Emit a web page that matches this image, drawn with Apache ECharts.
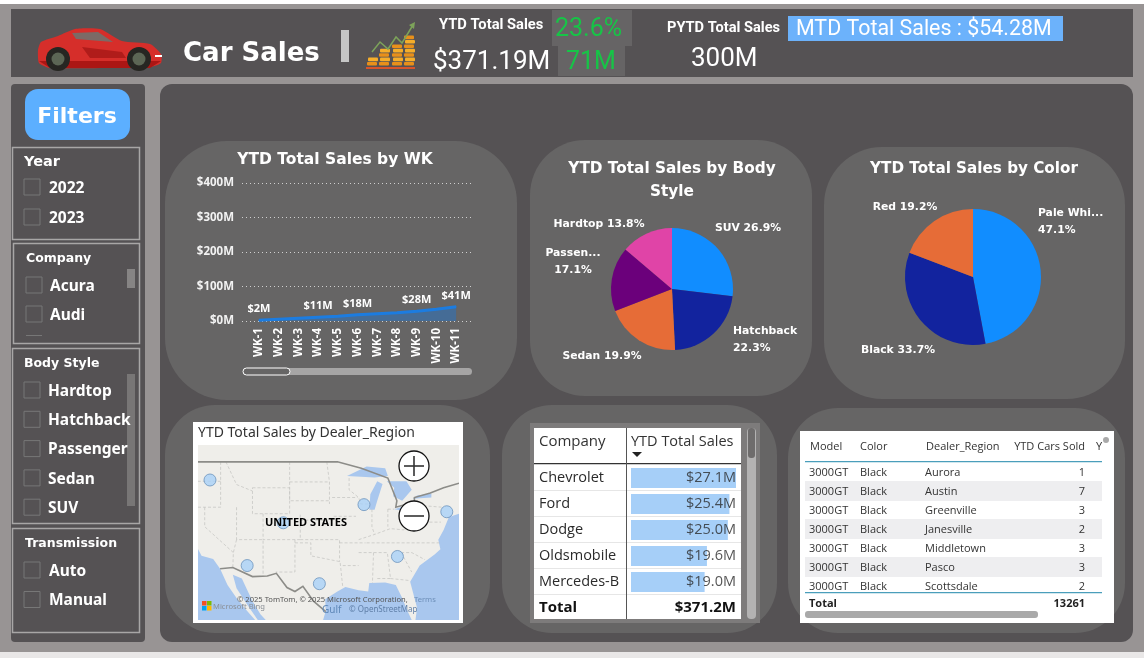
<!DOCTYPE html>
<html>
<head>
<meta charset="utf-8">
<script src="https://cdn.jsdelivr.net/npm/echarts@6/dist/echarts.min.js"></script>
<style>
  html, body { margin: 0; padding: 0; background: #989494; }
  #main { width: 1144px; height: 658px; }
</style>
</head>
<body>
<div id="main"></div>
<script>
const weeks = ["WK-1", "WK-2", "WK-3", "WK-4", "WK-5", "WK-6", "WK-7", "WK-8", "WK-9", "WK-10", "WK-11"];
const weekSales = [2, 5, 8, 11, 14, 18, 21, 24, 28, 34, 41];
const labelledWeeks = ["WK-1", "WK-4", "WK-6", "WK-9", "WK-11"];

const bodyStyles = ["SUV", "Hatchback", "Sedan", "Passenger", "Hardtop"];
const bodySales = [26.9, 22.3, 19.9, 17.1, 13.8];
const bodyColors = ["#118dff", "#12239e", "#e66c37", "#6b007b", "#e044a7"];

const carColors = ["Pale White", "Black", "Red"];
const colorSales = [47.0, 33.7, 19.2];
const colorColors = ["#118dff", "#12239e", "#e66c37"];

const companies = ["Chevrolet", "Ford", "Dodge", "Oldsmobile", "Mercedes-B"];
const companySales = [27.1, 25.4, 25.0, 19.6, 19.0];

const regions = ["Pasco", "Aurora", "Scottsdale", "Austin", "Janesville", "Greenville", "Middletown"];
const regionLon = [-119, -105.2, -112, -98.4, -90, -83.7, -74.4];
const regionLat = [46.2, 39.6, 33, 30.2, 42.4, 34.4, 41.3];

const tableModels = ["3000GT", "3000GT", "3000GT", "3000GT", "3000GT", "3000GT", "3000GT"];
const tableColors = ["Black", "Black", "Black", "Black", "Black", "Black", "Black"];
const tableRegions = ["Aurora", "Austin", "Greenville", "Janesville", "Middletown", "Pasco", "Scottsdale"];
const tableCars = [1, 7, 3, 2, 3, 3, 2];

const yearOptions = ["2022", "2023"];
const companyOptions = ["Acura", "Audi"];
const bodyOptions = ["Hardtop", "Hatchback", "Passenger", "Sedan", "SUV"];
const transmissionOptions = ["Auto", "Manual"];

// rough base map, lon/lat
const waterAreas = [
  [[-121.3, 24.6], [-121.3, 35.6], [-120.6, 34.5], [-118.4, 34], [-117.1, 32.5], [-115.7, 30], [-114, 28], [-112, 26], [-110.5, 24.6]],
  [[-114.7, 31.6], [-113, 31], [-111, 27.5], [-109.5, 25.5], [-108.5, 24.6], [-110, 24.6], [-112, 27], [-114, 29.5]],
  [[-97.7, 24.6], [-97.2, 26], [-97.3, 27.8], [-95, 29], [-93.5, 29.7], [-91, 29.2], [-89.2, 29], [-89, 30.3], [-86, 30.4], [-84, 30], [-82.8, 28], [-81.8, 26], [-81, 24.6]],
  [[-80.3, 24.6], [-80, 26.5], [-81.3, 30.5], [-79.5, 33], [-76.7, 34.7], [-75.6, 35.5], [-76, 37], [-75, 38.5], [-74, 40.5], [-72.1, 41], [-72.1, 24.6]],
  [[-93.2, 46.8], [-89.5, 48.3], [-86, 48], [-85.5, 46.8], [-88, 46.6]],
  [[-89, 41.6], [-88.8, 44], [-87.5, 46], [-86.5, 45.6], [-87.5, 43], [-88, 41.6]],
  [[-85.7, 46], [-82, 46], [-81, 44.7], [-82.8, 43], [-84.5, 43.7], [-84.3, 45]],
  [[-84.3, 41.7], [-80, 42.8], [-80.2, 42.5], [-82.5, 41.4]],
  [[-80.8, 43.3], [-77.3, 43.5], [-77.3, 44.1], [-80, 43.8]]
];
const borderLines = [
  [[-121.3, 49], [-95, 49], [-90.5, 48], [-85.5, 46.5], [-83.8, 43], [-84, 42], [-80.5, 42.8], [-80.5, 43.5], [-77.5, 44.2], [-75, 45], [-72.1, 45.7]],
  [[-117.1, 32.5], [-114.7, 32.7], [-111, 31.3], [-108.2, 31.4], [-106.5, 31.8], [-104.5, 29.6], [-103, 29], [-101.5, 29.8], [-99.5, 27.5], [-97.2, 25.9]]
];
const stateLines = [
  [[-111, 45], [-104, 45], [-104, 41], [-111, 41], [-111, 45]],
  [[-109, 41], [-109, 37], [-102, 37], [-102, 41]],
  [[-114, 42], [-114, 37], [-109, 37], [-109, 31.3]],
  [[-114, 37], [-114.6, 35], [-114.7, 32.7]],
  [[-103, 37], [-103, 32], [-106.6, 32]],
  [[-104, 49], [-104, 43], [-96.5, 43]],
  [[-104, 45.9], [-96.5, 45.9]],
  [[-97, 49], [-96.5, 45.9], [-96.5, 42.5]],
  [[-102, 40], [-95.3, 40]],
  [[-102, 37], [-94.6, 37], [-94.6, 33.6]],
  [[-103, 36.5], [-100, 36.5], [-100, 34.5], [-94.5, 33.6], [-94, 29.7]],
  [[-96, 43.5], [-91.2, 43.5]],
  [[-95.7, 40.6], [-91.5, 40.6]],
  [[-94.6, 36.5], [-89.7, 36.5]],
  [[-94, 33], [-91, 33]],
  [[-91, 35], [-85.6, 35], [-85, 31], [-87.5, 31]],
  [[-88.2, 35], [-88.4, 30.3]],
  [[-85, 31], [-81.5, 30.7]],
  [[-88.5, 41.7], [-88.5, 39], [-88, 37.8]],
  [[-85.5, 41.7], [-85.5, 39]],
  [[-89.5, 36.5], [-75.8, 36.5]],
  [[-91, 37], [-88, 37.8], [-85, 38.7], [-82.5, 38.5], [-80.6, 40.6]],
  [[-92.8, 46.5], [-92.8, 44.7], [-91, 43.5], [-90.6, 42.5], [-88.8, 42.5]],
  [[-85.5, 41.7], [-84.3, 41.7]],
  [[-80.5, 42], [-80.5, 39.7], [-75.5, 39.7]],
  [[-79.7, 42.3], [-75.3, 42]],
  [[-117, 49], [-117, 42], [-121.3, 42]],
  [[-121.3, 46], [-117, 46]],
  [[-120, 42], [-120, 39], [-114.6, 35]],
  [[-116, 49], [-114, 45.5], [-111, 44.5]],
  [[-83, 35], [-81, 35], [-78.5, 33.9]],
  [[-83, 35], [-81, 32]]
];

const TITLE_FONT = "DejaVu Sans";
const KPI_FONT = "Roboto";
const TABLE_FONT = "Open Sans";

function box(x, y, width, height, fill, r, extra) {
  return Object.assign({
    type: "rect",
    silent: true,
    shape: { x, y, width, height, r: r || 0 },
    style: { fill }
  }, extra);
}

function outline(x, y, width, height, stroke, lineWidth, extra) {
  return Object.assign({
    type: "rect",
    silent: true,
    shape: { x, y, width, height },
    style: { fill: "transparent", stroke, lineWidth: lineWidth || 1 }
  }, extra);
}

function txt(x, y, text, size, fill, opts) {
  opts = opts || {};
  return {
    type: "text",
    silent: true,
    x,
    y: y + size * 0.08,
    z: opts.z === undefined ? 5 : opts.z,
    style: {
      text,
      fill,
      fontSize: size,
      fontFamily: opts.font || TITLE_FONT,
      fontWeight: opts.weight || "normal",
      align: opts.align || "left",
      verticalAlign: "middle"
    }
  };
}

function filterList(items, boxX, textX, startY, stepY) {
  const out = [];
  items.forEach((item, i) => {
    const y = startY + i * stepY;
    out.push(outline(boxX, y - 8, 16, 16, "#777", 1, { z: 3 }));
    out.push(txt(textX, y, item, 15.5, "#fff", { font: "Noto Sans", weight: "bold" }));
  });
  return out;
}

function carIcon() {
  const poly = (points, fill, smooth) => ({
    type: "polygon", silent: true, z: 3,
    shape: { points, smooth: smooth || 0 },
    style: { fill }
  });
  const wheel = (cx) => [
    { type: "circle", silent: true, z: 4, shape: { cx, cy: 59, r: 12 }, style: { fill: "#262622" } },
    { type: "circle", silent: true, z: 4, shape: { cx, cy: 59, r: 6.5 }, style: { fill: "#5c6655" } }
  ];
  return [
    poly([[38, 50], [41, 42], [58, 36], [75, 29], [100, 29], [122, 41], [150, 44], [161, 54], [161, 63], [150, 67], [50, 68], [39, 63]], "#d62e2a", 0.2),
    poly([[39, 61], [161, 61], [150, 68], [50, 68]], "#ab1614"),
    poly([[72, 33], [98, 32], [113, 42], [76, 39]], "#7c6a66"),
    poly([[82, 47], [122, 52], [126, 58], [90, 58]], "#b01c1a")
  ].concat(wheel(58), wheel(139), [
    box(155, 55, 7, 2, "#fff", 0, { z: 4 })
  ]);
}

function coinIcon() {
  const out = [];
  const stacks = [[367, 2], [379, 4], [392, 5], [404, 7]];
  stacks.forEach(([x, count]) => {
    for (let i = 0; i < count; i++) {
      out.push(box(x + (i % 2), 62 - i * 4.4, 10, 3.6, i % 2 ? "#f6ae2a" : "#e8901a", 1, { z: 3 }));
    }
  });
  out.push(box(366, 67, 49, 2, "#d9552a", 0, { z: 3 }));
  out.push({
    type: "polyline", silent: true, z: 3,
    shape: { points: [[372, 52], [380, 42], [388, 49], [396, 37], [402, 43], [413, 25]] },
    style: { fill: "none", stroke: "#7da35a", lineWidth: 1.5 }
  });
  out.push({
    type: "polygon", silent: true, z: 3,
    shape: { points: [[415, 22], [409, 25], [414, 29]] },
    style: { fill: "#7da35a" }
  });
  return out;
}

function rightTable() {
  const out = [
    box(800, 431, 314, 192, "#fff", 0, { z: 1 }),
    box(805, 461, 297, 1.2, "#4a9ebb", 0, { z: 2 }),
    box(805, 592, 297, 1.2, "#4a9ebb", 0, { z: 2 }),
    box(805, 611, 233, 7, "#a9a9a9", 3, { z: 2 }),
    { type: "circle", silent: true, z: 3, shape: { cx: 1106, cy: 440, r: 3 }, style: { fill: "#a9a9a9" } }
  ];
  const size = 11;
  const cell = { font: TABLE_FONT };
  out.push(txt(810, 446, "Model", size, "#333", cell));
  out.push(txt(860, 446, "Color", size, "#333", cell));
  out.push(txt(926, 446, "Dealer_Region", size, "#333", cell));
  out.push(txt(1085, 446, "YTD Cars Sold", size, "#333", { font: TABLE_FONT, align: "right" }));
  out.push(txt(1096, 446, "Y", size, "#333", cell));
  tableRegions.forEach((region, i) => {
    const y = 472 + i * 19;
    if (i % 2 === 1) out.push(box(805, y - 10, 297, 20, "#eeeef0", 0, { z: 2 }));
    out.push(txt(809, y, tableModels[i], size, "#333", cell));
    out.push(txt(860, y, tableColors[i], size, "#333", cell));
    out.push(txt(925, y, region, size, "#333", cell));
    out.push(txt(1085, y, String(tableCars[i]), size, "#333", { font: TABLE_FONT, align: "right" }));
  });
  out.push(txt(809, 603, "Total", size, "#222", { font: TABLE_FONT, weight: "bold" }));
  out.push(txt(1085, 603, "13261", size, "#222", { font: TABLE_FONT, weight: "bold", align: "right" }));
  return out;
}

function companyTableFrame() {
  const out = [
    box(530, 423, 230, 200, "#7d7b7b", 0, { z: 1 }),
    box(534, 428, 207, 191, "#fff", 0, { z: 1 }),
    box(747, 428, 9, 191, "#b3b2b2", 4, { z: 2 }),
    box(748, 428, 7, 30, "#6e6c6c", 3, { z: 2 }),
    box(534, 463, 207, 1.2, "#333", 0, { z: 6 }),
    box(626, 428, 1, 191, "#555", 0, { z: 6 })
  ];
  [490, 516, 542, 568, 594].forEach((y) => {
    out.push(box(534, y, 207, 1, "#e6e6e6", 0, { z: 2 }));
  });
  out.push(txt(539, 441, "Company", 15, "#333", { font: TABLE_FONT }));
  out.push(txt(631, 441, "YTD Total Sales", 14.5, "#333", { font: TABLE_FONT }));
  out.push({
    type: "polygon", silent: true, z: 6,
    shape: { points: [[632, 452], [642, 452], [637, 457]] },
    style: { fill: "#222" }
  });
  out.push(txt(539, 607, "Total", 15, "#111", { font: TABLE_FONT, weight: "bold" }));
  out.push(txt(736, 607, "$371.2M", 15, "#111", { font: TABLE_FONT, weight: "bold", align: "right" }));
  return out;
}

function mapOverlay() {
  const zoomButton = (cy, plus) => {
    const parts = [
      { type: "circle", silent: true, z: 20, shape: { cx: 414, cy, r: 15 }, style: { fill: "#fff", stroke: "#111", lineWidth: 1.3 } },
      box(404, cy - 0.8, 20, 1.6, "#333", 0, { z: 21 })
    ];
    if (plus) parts.push(box(413.2, cy - 10, 1.6, 20, "#333", 0, { z: 21 }));
    return parts;
  };
  return [
    box(193, 422, 270, 201, "#fff", 0, { z: 0 }),
    txt(198, 432, "YTD Total Sales by Dealer_Region", 14, "#333", { font: "Noto Sans" }),
    txt(306, 522, "UNITED STATES", 11, "#000", { font: "Noto Sans", weight: "bold", align: "center", z: 20 }),
    txt(237, 599, "© 2025 TomTom, © 2025 Microsoft Corporation,", 7.6, "#555", { font: "Noto Sans", z: 20 }),
    txt(414, 599, "Terms", 7.6, "#6d8fb8", { font: "Noto Sans", z: 20 }),
    txt(322, 609, "Gulf", 10, "#5f88b8", { font: "Noto Sans", z: 20 }),
    txt(349, 609, "© OpenStreetMap", 8, "#5f7fa8", { font: "Noto Sans", z: 20 }),
    txt(213, 606, "Microsoft Bing", 7.6, "#8a8f96", { font: "Noto Sans", z: 20 }),
    box(202, 601, 4.5, 4.5, "#f25022", 0, { z: 20 }),
    box(207, 601, 4.5, 4.5, "#7fba00", 0, { z: 20 }),
    box(202, 606, 4.5, 4.5, "#00a4ef", 0, { z: 20 }),
    box(207, 606, 4.5, 4.5, "#ffb900", 0, { z: 20 })
  ].concat(zoomButton(466, true), zoomButton(516, false));
}

const PANEL = "#555254";
const CARD = "#666565";

const graphics = [
  box(0, 0, 1144, 4, "#fff", 0, { z: 0 }),
  box(0, 652, 1144, 6, "#e9e7e7", 0, { z: 0 }),
  // header
  box(11, 9, 1122, 68, PANEL, 0, { z: 0 }),
  box(341, 30, 8, 32, "#c6c6c6", 0, { z: 1 }),
  txt(183, 52, "Car Sales", 26, "#fff", { weight: "bold" }),
  txt(439, 24, "YTD Total Sales", 14.7, "#fff", { font: KPI_FONT, weight: "bold" }),
  txt(433, 60, "$371.19M", 26, "#fff", { font: KPI_FONT }),
  box(552, 10, 80, 36, "#666465", 0, { z: 1 }),
  box(558, 46, 67, 30, "#666465", 0, { z: 1 }),
  txt(555, 28, "23.6%", 25, "#17c447", { font: KPI_FONT }),
  txt(566, 61, "71M", 25, "#17c447", { font: KPI_FONT }),
  txt(667, 27, "PYTD Total Sales", 14.6, "#fff", { font: KPI_FONT, weight: "bold" }),
  txt(691, 57, "300M", 26, "#fff", { font: KPI_FONT }),
  box(788, 16, 275, 25, "#6cb2fb", 0, { z: 1 }),
  txt(796, 28, "MTD Total Sales : $54.28M", 21.4, "#fff", { font: KPI_FONT }),
  // filter panel
  box(11, 84, 134, 558, PANEL, 4, { z: 0 }),
  box(25, 89, 105, 51, "#5cafff", 13, { z: 1 }),
  txt(77, 116, "Filters", 22, "#fff", { weight: "bold", align: "center" }),
  outline(12.5, 147.5, 127, 92, "#a8a6a6", 1.5, { z: 1 }),
  outline(13.5, 243.5, 126, 100, "#a8a6a6", 1.5, { z: 1 }),
  outline(12.5, 348.5, 127, 175, "#a8a6a6", 1.5, { z: 1 }),
  outline(12.5, 528.5, 127, 104, "#a8a6a6", 1.5, { z: 1 }),
  txt(24, 161, "Year", 14.5, "#fff", { weight: "bold" }),
  txt(26, 258, "Company", 12.5, "#fff", { weight: "bold" }),
  txt(24, 363, "Body Style", 12.5, "#fff", { weight: "bold" }),
  txt(25, 543, "Transmission", 12.5, "#fff", { weight: "bold" }),
  box(127, 269, 8, 19, "#868484", 0, { z: 2 }),
  box(127, 374, 8, 132, "#787676", 0, { z: 2 }),
  box(26, 335, 16, 1, "#777", 0, { z: 3 }),
  // main panel and cards
  box(160, 84, 973, 558, PANEL, 12, { z: 0 }),
  box(165, 141, 352, 259, CARD, 62, { z: 0 }),
  box(530, 140, 282, 256, CARD, 55, { z: 0 }),
  box(824, 147, 301, 252, CARD, 58, { z: 0 }),
  box(165, 405, 325, 228, CARD, 50, { z: 0 }),
  box(502, 405, 275, 228, CARD, 50, { z: 0 }),
  box(788, 408, 337, 225, CARD, 50, { z: 0 }),
  // chart titles
  txt(335, 159, "YTD Total Sales by WK", 15.5, "#fff", { weight: "bold", align: "center" }),
  txt(672, 168, "YTD Total Sales by Body", 15.3, "#fff", { weight: "bold", align: "center" }),
  txt(672, 191, "Style", 15.3, "#fff", { weight: "bold", align: "center" }),
  txt(974, 168, "YTD Total Sales by Color", 15.2, "#fff", { weight: "bold", align: "center" }),
  // week chart scroller
  box(243, 368, 229, 7, "#a6a5a5", 3.5, { z: 2 }),
  Object.assign(box(243, 368, 47, 7, "#666565", 3.5, { z: 3 }), { style: { fill: "#666565", stroke: "#fff", lineWidth: 1 } })
].concat(
  filterList(yearOptions, 24, 49, 187, 30),
  filterList(companyOptions, 26, 50, 285, 29),
  filterList(bodyOptions, 24, 48, 390, 29.3),
  filterList(transmissionOptions, 24, 49, 570, 29.5),
  carIcon(),
  coinIcon(),
  mapOverlay(),
  companyTableFrame(),
  rightTable()
);

function pieLabel(data, names, positions, colors, center, radius) {
  return {
    type: "pie",
    center,
    radius,
    startAngle: 90,
    clockwise: true,
    silent: true,
    animation: false,
    percentPrecision: 1,
    z: 4,
    data: names.map((name, i) => ({
      name,
      value: data[i],
      itemStyle: { color: colors[i] },
      label: positions[i].label
    })),
    label: {
      show: true,
      color: "#fff",
      fontFamily: TITLE_FONT,
      fontWeight: "bold",
      fontSize: 10.8,
      lineHeight: 17,
      overflow: "none"
    },
    labelLine: { show: false },
    labelLayout: (params) => {
      const p = positions[params.dataIndex];
      return { x: p.x, y: p.y, align: p.align, verticalAlign: "middle" };
    }
  };
}

const bodyLabels = [
  { x: 748, y: 228, align: "center", label: { formatter: "{b} {d}%" } },
  { x: 733, y: 340, align: "left", label: { formatter: "{b}\n{d}%" } },
  { x: 602, y: 356, align: "center", label: { formatter: "{b} {d}%" } },
  { x: 573, y: 262, align: "center", label: { formatter: "Passen...\n{d}%" } },
  { x: 599, y: 224, align: "center", label: { formatter: "{b} {d}%" } }
];
const colorLabels = [
  { x: 1038, y: 222, align: "left", label: { formatter: "Pale Whi...\n{d}%" } },
  { x: 898, y: 350, align: "center", label: { formatter: "{b} {d}%" } },
  { x: 905, y: 207, align: "center", label: { formatter: "{b} {d}%" } }
];

const option = {
  backgroundColor: "#989494",
  animation: false,
  graphic: { elements: graphics },
  grid: [
    { left: 242, top: 183, width: 230, height: 138 },
    { left: 249, top: 183, width: 217, height: 138 },
    { left: 198, top: 445, width: 261, height: 175, show: true, backgroundColor: "#efeeea", borderWidth: 0, z: 1 },
    { left: 631, top: 465, width: 105, height: 130 }
  ],
  xAxis: [
    { type: "value", gridIndex: 0, min: 0, max: 1, show: false },
    {
      type: "category",
      gridIndex: 1,
      data: weeks,
      axisLine: { show: false },
      axisTick: { show: false },
      axisLabel: {
        rotate: 90,
        interval: 0,
        margin: 7,
        color: "#fff",
        fontFamily: "Noto Sans",
        fontWeight: "bold",
        fontSize: 11.5
      }
    },
    { type: "value", gridIndex: 2, min: -121.26, max: -72.1, show: false },
    { type: "value", gridIndex: 3, min: 0, max: 27.1, show: false }
  ],
  yAxis: [
    {
      type: "value",
      gridIndex: 0,
      min: 0,
      max: 400,
      interval: 100,
      axisLine: { show: false },
      axisTick: { show: false },
      axisLabel: {
        margin: 8,
        color: "#f2f2f2",
        fontFamily: "Noto Sans",
        fontWeight: "bold",
        fontSize: 11.5,
        formatter: "${value}M"
      },
      splitLine: { lineStyle: { color: "#cfcfcf", type: [1, 3], width: 1 } }
    },
    { type: "value", gridIndex: 1, min: 0, max: 400, show: false },
    { type: "value", gridIndex: 2, min: 24.6, max: 51.6, show: false },
    {
      type: "category",
      gridIndex: 3,
      inverse: true,
      z: 7,
      data: companies,
      axisLine: { show: false },
      axisTick: { show: false },
      axisLabel: {
        align: "left",
        margin: 92,
        color: "#2b2b2b",
        fontFamily: TABLE_FONT,
        fontSize: 14.5
      }
    }
  ],
  series: [
    {
      type: "line",
      xAxisIndex: 1,
      yAxisIndex: 1,
      data: weekSales,
      showSymbol: true,
      showAllSymbol: true,
      symbol: "circle",
      symbolSize: 1,
      z: 4,
      itemStyle: { color: "#1c7ce0" },
      lineStyle: { color: "#1c7ce0", width: 3 },
      areaStyle: { color: "#2a72c0", opacity: 0.55 },
      label: {
        show: true,
        position: "top",
        distance: 5,
        color: "#fff",
        fontFamily: "Noto Sans",
        fontWeight: "bold",
        fontSize: 11,
        formatter: (p) => (labelledWeeks.includes(p.name) ? `$${p.value}M` : "")
      }
    },
    pieLabel(bodySales, bodyStyles, bodyLabels, bodyColors, [672, 289], 61),
    pieLabel(colorSales, carColors, colorLabels, colorColors, [973, 277], 68),
    {
      type: "custom",
      xAxisIndex: 2,
      yAxisIndex: 2,
      clip: true,
      silent: true,
      z: 2,
      data: waterAreas.map((_, i) => [i]),
      encode: { x: [], y: [] },
      renderItem: (params, api) => ({
        type: "polygon",
        shape: { points: waterAreas[params.dataIndex].map((p) => api.coord(p)) },
        style: { fill: "#a9c7ee" }
      })
    },
    {
      type: "custom",
      xAxisIndex: 2,
      yAxisIndex: 2,
      clip: true,
      silent: true,
      z: 3,
      data: stateLines.map((_, i) => [i]),
      encode: { x: [], y: [] },
      renderItem: (params, api) => ({
        type: "polyline",
        shape: { points: stateLines[params.dataIndex].map((p) => api.coord(p)) },
        style: { fill: "none", stroke: "#c2c2be", lineWidth: 0.7, lineDash: [3, 2] }
      })
    },
    {
      type: "custom",
      xAxisIndex: 2,
      yAxisIndex: 2,
      clip: true,
      silent: true,
      z: 3,
      data: borderLines.map((_, i) => [i]),
      encode: { x: [], y: [] },
      renderItem: (params, api) => ({
        type: "polyline",
        shape: { points: borderLines[params.dataIndex].map((p) => api.coord(p)) },
        style: { fill: "none", stroke: "#8c8c88", lineWidth: 1.6 }
      })
    },
    {
      type: "scatter",
      name: "Dealer_Region",
      xAxisIndex: 2,
      yAxisIndex: 2,
      symbolSize: 12,
      silent: true,
      z: 5,
      itemStyle: { color: "#a9d1f8", borderColor: "#6b93bd", borderWidth: 1 },
      data: regions.map((name, i) => ({ name, value: [regionLon[i], regionLat[i]] }))
    },
    {
      type: "bar",
      xAxisIndex: 3,
      yAxisIndex: 3,
      barWidth: 20,
      silent: true,
      z: 3,
      itemStyle: { color: "#a6cff8" },
      data: companySales,
      label: { show: false }
    },
    {
      // value text stays on the right edge of the column, not on the bar end
      type: "scatter",
      xAxisIndex: 3,
      yAxisIndex: 3,
      symbolSize: 0,
      silent: true,
      z: 6,
      data: companySales.map((value, i) => ({ value: [27.1, companies[i]], sales: value })),
      label: {
        show: true,
        position: "left",
        distance: 0,
        color: "#2b2b2b",
        fontFamily: TABLE_FONT,
        fontSize: 14.5,
        formatter: (p) => `$${p.data.sales.toFixed(1)}M`
      }
    }
  ]
};

const chart = echarts.init(document.getElementById("main"));
chart.setOption(option);
</script>
</body>
</html>
